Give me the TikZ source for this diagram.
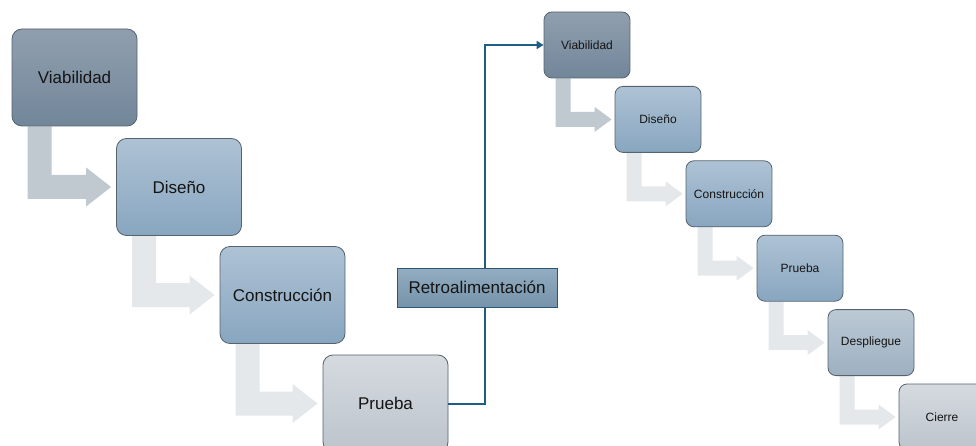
\documentclass[tikz,border=0pt]{standalone}
\usepackage{fontspec}
\setmainfont{Liberation Sans}
\usetikzlibrary{arrows.meta,calc,backgrounds}
\definecolor{bordc}{HTML}{55636F}
\definecolor{darkT}{HTML}{909FAE}
\definecolor{darkB}{HTML}{72869A}
\definecolor{blueT}{HTML}{AEC2D4}
\definecolor{blueB}{HTML}{88A6C0}
\definecolor{greyT}{HTML}{D5DADF}
\definecolor{greyB}{HTML}{BCC4CC}
\definecolor{midT}{HTML}{BCC9D5}
\definecolor{midB}{HTML}{9DB0C1}
\definecolor{arrA}{HTML}{C0C8D0}
\definecolor{arrB}{HTML}{E4E8EB}
\definecolor{fbline}{HTML}{1E5E85}
\definecolor{fbT}{HTML}{93ADC1}
\definecolor{fbB}{HTML}{7593AA}
\definecolor{fbbord}{HTML}{2C5673}
\tikzset{
  bigbox/.style={rounded corners=10pt, draw=bordc, line width=0.8pt,
    minimum width=125pt, minimum height=97pt, inner sep=0pt,
    font=\fontsize{17}{20}\selectfont, text=black!92},
  smallbox/.style={rounded corners=8pt, draw=bordc, line width=0.8pt,
    minimum width=86pt, minimum height=66pt, inner sep=0pt,
    font=\fontsize{12}{14}\selectfont, text=black!92},
  darkfill/.style={top color=darkT, bottom color=darkB},
  bluefill/.style={top color=blueT, bottom color=blueB},
  greyfill/.style={top color=greyT, bottom color=greyB},
  midfill/.style={top color=midT, bottom color=midB},
  fbbox/.style={draw=fbbord, line width=1pt, top color=fbT, bottom color=fbB,
    minimum width=160pt, minimum height=39pt, inner sep=0pt,
    font=\fontsize{17}{20}\selectfont, text=black!92},
  fbconn/.style={draw=fbline, line width=2pt, -{Triangle[length=7pt,width=8pt]}}
}
% #1 src, #2 tgt, #3 colour, #4 offset from src west, #5 bar width,
% #6 head length, #7 head half height, #8 gap before target
\newcommand{\bentarr}[8]{%
  \fill[#3] let \p1=(#1.south west), \p2=(#2.west) in
    (\x1+#4, \y1) -- (\x1+#4+#5, \y1) -- (\x1+#4+#5, \y2+#5/2)
    -- (\x2-#8-#6, \y2+#5/2) -- (\x2-#8-#6, \y2+#7) -- (\x2-#8, \y2)
    -- (\x2-#8-#6, \y2-#7) -- (\x2-#8-#6, \y2-#5/2) -- (\x1+#4, \y2-#5/2) -- cycle;
}
\begin{document}
\begin{tikzpicture}[x=1pt,y=-1pt]
\useasboundingbox (0,0) rectangle (976,446);
\clip (0,0) rectangle (976,446);
% left cascade
\node[bigbox,darkfill] (v1) at (74.5,77.5) {Viabilidad};
\node[bigbox,bluefill] (d1) at (179,187) {Diseño};
\node[bigbox,bluefill] (c1) at (282.5,295) {Construcción};
\node[bigbox,greyfill] (p1) at (385.5,403.5) {Prueba};
% right cascade
\node[smallbox,darkfill] (v2) at (587,45) {Viabilidad};
\node[smallbox,bluefill] (d2) at (658,119.4) {Diseño};
\node[smallbox,bluefill] (c2) at (729,193.8) {Construcción};
\node[smallbox,bluefill] (p2) at (800,268.2) {Prueba};
\node[smallbox,midfill] (de2) at (871,342.6) {Despliegue};
\node[smallbox,greyfill] (ci2) at (942,417) {Cierre};
\begin{scope}[on background layer]
\bentarr{v1}{d1}{arrA}{16pt}{24pt}{25pt}{19.5pt}{5pt}
\bentarr{d1}{c1}{arrB}{16pt}{24pt}{25pt}{19.5pt}{5pt}
\bentarr{c1}{p1}{arrB}{16pt}{24pt}{25pt}{19.5pt}{5pt}
\bentarr{v2}{d2}{arrA}{12pt}{15pt}{17pt}{12.5pt}{3pt}
\bentarr{d2}{c2}{arrB}{12pt}{15pt}{17pt}{12.5pt}{3pt}
\bentarr{c2}{p2}{arrB}{12pt}{15pt}{17pt}{12.5pt}{3pt}
\bentarr{p2}{de2}{arrB}{12pt}{15pt}{17pt}{12.5pt}{3pt}
\bentarr{de2}{ci2}{arrB}{12pt}{15pt}{17pt}{12.5pt}{3pt}
\end{scope}
% feedback
\draw[fbconn] (p1.east) -- ++(37,0) |- (v2.west);
\node[fbbox] (fb) at (477,287.5) {Retroalimentación};
\end{tikzpicture}
\end{document}
